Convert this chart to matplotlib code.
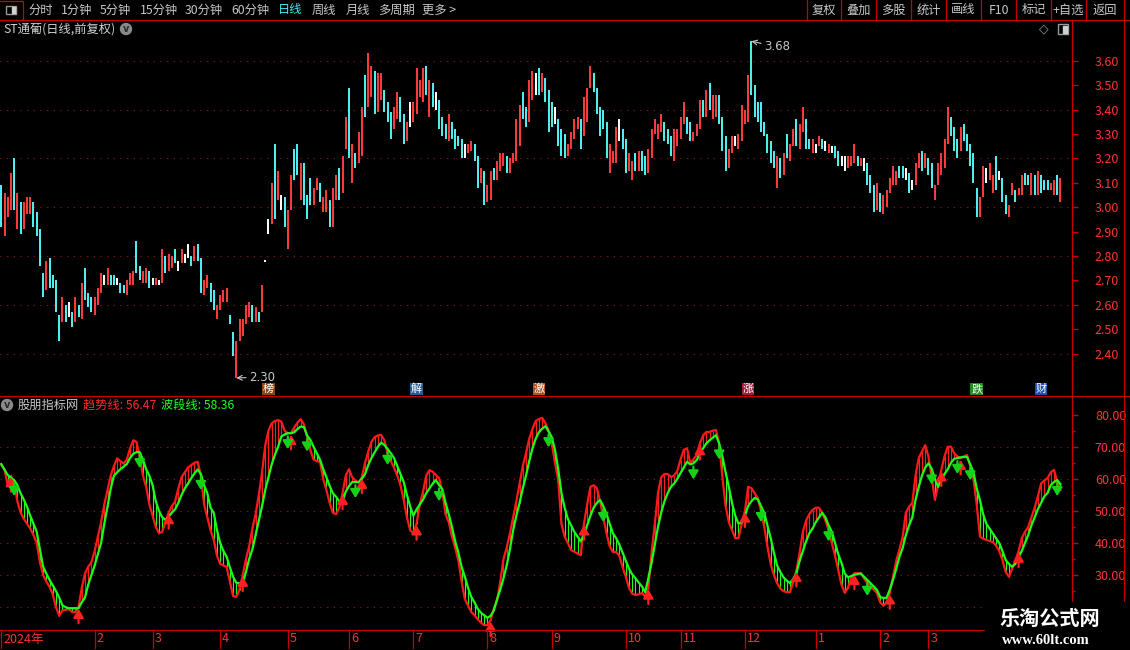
import numpy as np
import matplotlib
matplotlib.use("Agg")
import matplotlib.pyplot as plt
from matplotlib.patches import Rectangle, Circle
from matplotlib.transforms import blended_transform_factory

plt.rcParams["font.family"] = ["Noto Sans CJK SC", "DejaVu Sans"]

# daily bars: high / low / colour (r = up, c = down, w = flat)
highs = [
    3.09, 3.06, 3.04, 3.14, 3.20, 3.06, 3.02, 3.02, 3.04, 3.04,
    3.02, 2.98, 2.91, 2.73, 2.78, 2.79, 2.72, 2.70, 2.56, 2.63,
    2.60, 2.61, 2.57, 2.63, 2.60, 2.69, 2.75, 2.65, 2.63, 2.63,
    2.67, 2.73, 2.72, 2.75, 2.72, 2.72, 2.71, 2.69, 2.68, 2.70,
    2.73, 2.74, 2.86, 2.76, 2.74, 2.75, 2.74, 2.71, 2.71, 2.70,
    2.83, 2.80, 2.81, 2.80, 2.83, 2.78, 2.83, 2.81, 2.85, 2.80,
    2.84, 2.85, 2.79, 2.70, 2.72, 2.69, 2.66, 2.60, 2.64, 2.66,
    2.67, 2.56, 2.49, 2.45, 2.54, 2.54, 2.60, 2.61, 2.60, 2.59,
    2.57, 2.68, 2.785, 2.95, 3.10, 3.26, 3.15, 3.05, 3.04, 2.99,
    3.13, 3.24, 3.26, 3.18, 3.18, 3.05, 3.12, 3.08, 3.12, 3.10,
    3.04, 3.07, 3.03, 3.08, 3.13, 3.16, 3.21, 3.37, 3.49, 3.26,
    3.22, 3.31, 3.41, 3.54, 3.63, 3.58, 3.56, 3.55, 3.55, 3.48,
    3.43, 3.39, 3.41, 3.47, 3.45, 3.38, 3.35, 3.43, 3.43, 3.57,
    3.52, 3.57, 3.58, 3.52, 3.51, 3.47, 3.44, 3.37, 3.34, 3.38,
    3.35, 3.32, 3.29, 3.28, 3.26, 3.26, 3.27, 3.26, 3.21, 3.16,
    3.15, 3.09, 3.15, 3.16, 3.19, 3.22, 3.22, 3.21, 3.20, 3.22,
    3.36, 3.42, 3.47, 3.41, 3.52, 3.56, 3.55, 3.57, 3.55, 3.53,
    3.48, 3.43, 3.41, 3.36, 3.32, 3.30, 3.26, 3.31, 3.36, 3.37,
    3.36, 3.45, 3.49, 3.58, 3.55, 3.49, 3.41, 3.40, 3.35, 3.26,
    3.23, 3.33, 3.36, 3.32, 3.28, 3.22, 3.19, 3.22, 3.23, 3.23,
    3.21, 3.24, 3.32, 3.36, 3.34, 3.38, 3.35, 3.32, 3.29, 3.32,
    3.32, 3.37, 3.43, 3.37, 3.35, 3.31, 3.34, 3.44, 3.44, 3.48,
    3.51, 3.46, 3.46, 3.46, 3.37, 3.29, 3.24, 3.29, 3.29, 3.30,
    3.42, 3.40, 3.54, 3.68, 3.50, 3.43, 3.43, 3.35, 3.30, 3.27,
    3.23, 3.21, 3.20, 3.22, 3.30, 3.26, 3.32, 3.36, 3.34, 3.41,
    3.36, 3.28, 3.28, 3.26, 3.29, 3.28, 3.27, 3.26, 3.25, 3.25,
    3.23, 3.21, 3.21, 3.21, 3.21, 3.26, 3.21, 3.20, 3.20, 3.18,
    3.13, 3.09, 3.10, 3.06, 3.05, 3.07, 3.12, 3.17, 3.15, 3.17,
    3.17, 3.16, 3.14, 3.11, 3.18, 3.22, 3.23, 3.22, 3.20, 3.18,
    3.09, 3.18, 3.22, 3.28, 3.41, 3.37, 3.33, 3.28, 3.33, 3.34,
    3.30, 3.26, 3.22, 3.08, 3.04, 3.17, 3.16, 3.18, 3.13, 3.21,
    3.15, 3.12, 3.05, 3.01, 3.10, 3.07, 3.08, 3.13, 3.14, 3.13,
    3.14, 3.13, 3.15, 3.13, 3.11, 3.11, 3.10, 3.11, 3.13, 3.12,
]
lows = [
    2.92, 2.88, 2.96, 2.99, 2.99, 2.91, 2.89, 2.91, 2.97, 2.97,
    2.92, 2.88, 2.76, 2.63, 2.66, 2.67, 2.67, 2.57, 2.45, 2.53,
    2.53, 2.55, 2.51, 2.53, 2.55, 2.54, 2.62, 2.59, 2.57, 2.56,
    2.60, 2.65, 2.68, 2.68, 2.68, 2.68, 2.68, 2.65, 2.65, 2.64,
    2.68, 2.68, 2.73, 2.70, 2.69, 2.69, 2.67, 2.68, 2.68, 2.68,
    2.69, 2.73, 2.74, 2.75, 2.77, 2.74, 2.77, 2.77, 2.79, 2.76,
    2.78, 2.78, 2.65, 2.64, 2.67, 2.61, 2.58, 2.54, 2.58, 2.61,
    2.61, 2.52, 2.39, 2.30, 2.45, 2.47, 2.52, 2.55, 2.53, 2.53,
    2.53, 2.57, 2.775, 2.89, 2.93, 2.95, 3.03, 2.99, 2.92, 2.83,
    2.99, 3.11, 3.13, 3.03, 3.01, 2.95, 3.01, 3.01, 3.07, 3.02,
    2.98, 2.98, 2.92, 2.92, 3.03, 3.03, 3.06, 3.24, 3.20, 3.10,
    3.16, 3.18, 3.21, 3.37, 3.41, 3.45, 3.38, 3.39, 3.44, 3.39,
    3.35, 3.28, 3.32, 3.36, 3.35, 3.26, 3.27, 3.33, 3.35, 3.38,
    3.45, 3.43, 3.46, 3.37, 3.41, 3.40, 3.32, 3.29, 3.28, 3.27,
    3.28, 3.24, 3.25, 3.20, 3.20, 3.22, 3.23, 3.19, 3.08, 3.10,
    3.01, 3.02, 3.03, 3.11, 3.11, 3.15, 3.17, 3.14, 3.14, 3.18,
    3.19, 3.25, 3.36, 3.33, 3.35, 3.44, 3.46, 3.46, 3.47, 3.43,
    3.31, 3.33, 3.34, 3.25, 3.21, 3.20, 3.21, 3.24, 3.28, 3.32,
    3.24, 3.29, 3.35, 3.49, 3.47, 3.38, 3.29, 3.32, 3.20, 3.14,
    3.18, 3.18, 3.27, 3.24, 3.14, 3.15, 3.11, 3.15, 3.15, 3.15,
    3.13, 3.14, 3.20, 3.30, 3.28, 3.31, 3.27, 3.26, 3.21, 3.19,
    3.25, 3.28, 3.34, 3.30, 3.27, 3.27, 3.29, 3.32, 3.37, 3.37,
    3.40, 3.36, 3.37, 3.34, 3.23, 3.15, 3.16, 3.22, 3.25, 3.24,
    3.27, 3.34, 3.35, 3.46, 3.37, 3.35, 3.31, 3.29, 3.22, 3.18,
    3.16, 3.08, 3.12, 3.13, 3.20, 3.19, 3.25, 3.25, 3.24, 3.31,
    3.24, 3.24, 3.22, 3.22, 3.25, 3.24, 3.23, 3.22, 3.22, 3.20,
    3.17, 3.17, 3.15, 3.16, 3.17, 3.18, 3.17, 3.17, 3.15, 3.09,
    3.06, 2.98, 2.99, 2.98, 2.97, 3.00, 3.06, 3.09, 3.09, 3.12,
    3.12, 3.11, 3.06, 3.07, 3.09, 3.16, 3.15, 3.16, 3.13, 3.08,
    3.03, 3.09, 3.13, 3.16, 3.26, 3.29, 3.23, 3.20, 3.23, 3.27,
    3.23, 3.17, 3.10, 2.96, 2.96, 3.04, 3.10, 3.11, 3.06, 3.07,
    3.11, 3.02, 2.97, 2.96, 3.05, 3.02, 3.05, 3.05, 3.09, 3.09,
    3.05, 3.05, 3.05, 3.06, 3.07, 3.07, 3.07, 3.05, 3.05, 3.02,
]
bar_kind = (
    "crrrcrcrrr" "ccccrccccr" "cwcrcrcccr" "rrwrccwccr" "rrccrrcwrw"
    "rcrrcwrwwc" "rccrrccrrr" "rccrrrrrcr" "crwwrcrwcr" "rccrcccrrc"
    "rrcrrcrrcr" "crrcrrcrrc" "ccrrccrwrr" "rrcrcwcccr" "ccccwrrccr"
    "crrcrrrcrr" "rrccrrwcrc" "ccwcccrrrr" "crrrcccccr" "rrwccrrcrc"
    "crrrrrcccr" "rrrccrrrcr" "crrcccrrwr" "rrrccccccc" "crcrcrrcrr"
    "ccrwrcwrwc" "cwwrrrcrwc" "ccrcrrrrrc" "cwcwrrcrcc" "rrrrrcccrc"
    "ccccrrwrrc" "wccrrcrrcc" "rcrcccrrcr"
)

# indicator: 趋势线 (red) and 波段线 (green)
trend = [
    64.3, 63, 58, 61, 58.5, 53, 49.5, 47.5, 46, 44.5,
    42.5, 40, 34, 30, 28, 26.3, 24, 20, 17.3, 19,
    19.2, 19.4, 18.5, 18.5, 20, 26, 30.5, 32.6, 34, 37.5,
    42, 46.5, 52, 56.5, 61, 64, 66.4, 65.5, 64.8, 66,
    69.5, 72, 71.5, 67, 61, 57.5, 52, 48.5, 45, 43,
    43.5, 46.5, 49.5, 51.5, 53, 57, 60.5, 62, 63.5, 64.3,
    65, 65.3, 61, 52, 48, 44, 41, 36, 33.5, 33,
    32.6, 28, 23.5, 23.2, 25.5, 30, 35, 39, 44.5, 49,
    55, 62, 70.5, 75, 77.3, 78, 78.3, 77.8, 75, 74.2,
    74.2, 76, 77.5, 78.6, 77, 73, 69, 66, 65.5, 65.3,
    60, 56.5, 52.5, 49.4, 49, 51, 55.5, 61, 63, 60.5,
    59.5, 58.7, 60.5, 65, 68.5, 71.5, 73, 73.5, 73.7, 72,
    68, 65.5, 63.5, 61, 58, 53.5, 48, 44, 43, 46,
    52, 56, 61, 62.7, 62.2, 61.2, 60.2, 56, 49, 46.5,
    42, 38.5, 34.5, 28, 22.5, 20.5, 18.5, 17.5, 16.2, 15.2,
    14.4, 14.4, 16, 19.5, 22, 28, 35, 38.5, 43, 48,
    53, 58.5, 64, 68, 72.5, 75.5, 78, 78.6, 79, 77.4,
    75, 71, 65, 59.6, 46, 42, 40, 37.8, 37.3, 36.7,
    36.2, 46, 52, 57.5, 58, 57.1, 53, 48, 43, 39,
    37.2, 37.2, 36, 32.5, 29.5, 26, 24.2, 23.8, 24, 24.4,
    23.4, 26, 37, 46, 55.5, 60.5, 61.5, 61.5, 60.6, 61,
    62.5, 66, 69, 69.5, 65, 66, 67.5, 71, 73.5, 74.6,
    74.6, 75, 75.2, 71, 60.6, 51.5, 46.5, 44, 41.5, 41.5,
    46, 50, 57.5, 57.1, 55.5, 54, 50, 45, 38.8, 33.5,
    30, 27.5, 25.8, 25, 24.7, 24.7, 28, 31.5, 37, 43.5,
    47, 49, 50.3, 51, 51, 49.5, 47, 44, 40, 36,
    31.5, 27, 24.5, 26, 29, 30.6, 30.6, 30.6, 29, 27.5,
    26.5, 25.5, 24.4, 21.5, 20.5, 21.5, 24.5, 29.5, 34.5, 38,
    42, 49.5, 51.3, 52.5, 61, 66.5, 68.5, 70.5, 67, 60.5,
    53.5, 58, 62.8, 67, 70, 70, 68, 67, 66.4, 67,
    67.4, 64, 60, 52, 42, 41.3, 41, 40.6, 40.3, 39.2,
    37.5, 34.7, 31, 29.5, 32, 34.5, 37.5, 41.5, 43.5, 45,
    48, 51, 54.5, 58.5, 59.5, 60.2, 62, 62.8, 59, 56.47,
]
wave = [
    64.6, 62.8, 61.2, 60.3, 59.6, 58, 55.5, 53.5, 51.3, 48.5,
    46, 43.5, 38, 32.6, 30.5, 28.5, 26.8, 25, 23, 20.6,
    20, 19.7, 19.7, 19.7, 19.7, 21.5, 23, 27, 30, 33,
    36.5, 40, 46, 51.3, 57, 61, 62, 63, 63.8, 64.6,
    66.5, 67.8, 68.3, 68.3, 66, 63, 61, 58, 53, 50,
    48, 47.2, 48.2, 49.5, 50.5, 52.5, 55, 57, 58.5, 60.2,
    61.7, 62.9, 61.5, 58, 55.5, 51, 49.4, 44, 40, 37.5,
    35.7, 32.5, 29.5, 27.6, 27.5, 27.5, 31, 35, 38, 42.5,
    47, 51.5, 56.5, 60.5, 64.5, 67.5, 70, 73.2, 73.8, 74.2,
    74.2, 74.5, 75.5, 76.3, 76.1, 73.5, 72.1, 70, 68, 66,
    63, 60.5, 57.8, 55.5, 54.4, 53, 53, 56, 57.7, 59,
    59, 59, 60, 61.5, 64.3, 66.5, 68.3, 70, 71.3, 70.5,
    69.3, 68, 66.5, 64, 61.5, 59, 55, 51.5, 48.5, 50.5,
    52, 53.5, 55.5, 57, 58.5, 59.6, 58, 56.8, 52.5, 49,
    45, 40.5, 37, 32.5, 29.5, 26, 23.2, 21.5, 19.5, 18.3,
    17.5, 16.7, 17.3, 19, 22.5, 25.5, 29, 33, 38, 44,
    48.5, 52.5, 57, 61, 65.5, 69.5, 72.5, 74.5, 75.6, 76.4,
    74.8, 73, 69, 63, 55.6, 51, 47.5, 45.5, 43.5, 42,
    40.5, 42.5, 45.5, 48.5, 51, 52.5, 53.4, 51.5, 49, 46,
    43, 41.5, 39.5, 37, 34.5, 32, 30.2, 29, 27.7, 26.5,
    24.7, 29, 33.8, 39.5, 45, 49.5, 53, 55.5, 57.5, 58.5,
    60, 61.8, 63.5, 65.3, 64.5, 64.8, 65.8, 67.8, 69.5, 71,
    72, 72.8, 73.6, 71, 67, 62, 57.5, 52.5, 48.5, 46,
    46.5, 48.5, 51.5, 53, 54, 53.6, 51.5, 49.4, 45.5, 41.5,
    37, 33, 31, 29.3, 28.3, 27.5, 28.8, 30.6, 34.5, 37.5,
    40.5, 43, 44.5, 46.5, 48, 49.4, 48, 45.5, 43.5, 40,
    36.5, 33.8, 30.5, 29.3, 29.7, 30.1, 30.3, 30.5, 29.5, 28.5,
    27.5, 26.5, 25.4, 23.2, 22.9, 22.9, 25.5, 28.5, 32, 35.7,
    38.5, 42.5, 45.5, 48, 53.5, 57.5, 61, 63.5, 64.8, 63.2,
    60, 57.5, 59.6, 61.5, 63, 65, 66.2, 66.5, 66.7, 66.8,
    66.8, 64.5, 62, 57, 53.4, 49, 46, 44.5, 43, 41.5,
    40, 37.5, 34.7, 33.5, 32.6, 33.5, 35.7, 37.5, 40, 42.5,
    45.5, 48, 50.5, 52.5, 54.5, 55.6, 58, 59, 59.6, 58.36,
]
cross_up = [3, 24, 52, 75, 90, 106, 112, 129, 152, 181, 201, 217, 231,
            247, 265, 276, 292, 298, 316]
cross_down = [4, 43, 62, 89, 95, 110, 120, 136, 170, 187, 215, 223, 236,
              257, 269, 289, 297, 301, 328]

month_pos = [0, 29, 47, 68, 89, 108, 128, 151, 171, 194, 211, 231, 253, 273, 288]
month_text = ["2024年", "2", "3", "4", "5", "6", "7", "8", "9", "10", "11",
              "12", "1", "2", "3"]

event_pos = [83, 129, 167, 232, 303, 323]
event_text = ["榜", "解", "激", "涨", "跌", "财"]

price_ticks = [2.4, 2.5, 2.6, 2.7, 2.8, 2.9, 3.0, 3.1, 3.2, 3.3, 3.4, 3.5, 3.6]
price_grid = [2.4, 2.6, 2.8, 3.0, 3.2, 3.4, 3.6]
ind_ticks = [30, 40, 50, 60, 70, 80]
ind_grid = [20, 30, 40, 50, 60, 70]

# ---- colours
BORDER = "#c80000"
GRID = "#a01414"
AXLBL = "#ff3434"
GREY = "#c8c8c8"
BAR_COL = {"r": "#ff3c3c", "c": "#50f5f5", "w": "#ffffff"}
EVT_BG = {"榜": "#8c4614", "解": "#1f5f96", "激": "#b0521c",
          "涨": "#9c1e3c", "跌": "#1e8c1e", "财": "#2050b0"}
UI_FS = 8.8

W, H = 1130, 650
fig = plt.figure(figsize=(W / 100, H / 100), dpi=100, facecolor="black")


def px_rect(x0, y0, x1, y1):
    return [x0 / W, 1 - y1 / H, (x1 - x0) / W, (y1 - y0) / H]


ax1 = fig.add_axes(px_rect(0, 20, 1072, 396))
ax2 = fig.add_axes(px_rect(0, 396, 1072, 630))
n = len(highs)
x = np.arange(n)
xlim = (-0.4, 332.6)

for ax in (ax1, ax2):
    ax.set_facecolor("black")
    for s in ax.spines.values():
        s.set_visible(False)
    ax.set_xlim(*xlim)
    ax.set_xticks([])
    ax.yaxis.tick_right()

# ---- price panel
ax1.set_ylim(2.226, 3.767)
for g in price_grid:
    ax1.axhline(g, color=GRID, lw=0.8, ls=(0, (1, 5)), zorder=0)
ax1.vlines(x, lows, highs, colors=[BAR_COL[k] for k in bar_kind], lw=1.4, zorder=2)
ax1.set_yticks(price_ticks)
ax1.set_yticklabels([f"{v:.2f}" for v in price_ticks])
ax1.tick_params(axis="y", length=4, width=1, color=BORDER, labelcolor=AXLBL,
                labelsize=9, pad=12.5)

lo_arr, hi_arr = np.array(lows), np.array(highs)
imin, imax = int(lo_arr.argmin()), int(hi_arr.argmax())
ax1.annotate(f"{lo_arr[imin]:.2f}", xy=(imin, lo_arr[imin]), xytext=(9, 0.5),
             textcoords="offset points", color=GREY, fontsize=8.5,
             family="DejaVu Sans", va="center",
             arrowprops=dict(arrowstyle="->", color=GREY, lw=0.8,
                             shrinkA=0, shrinkB=0))
ax1.annotate(f"{hi_arr[imax]:.2f}", xy=(imax, hi_arr[imax]), xytext=(9, -4),
             textcoords="offset points", color=GREY, fontsize=8.5,
             family="DejaVu Sans", va="center",
             arrowprops=dict(arrowstyle="->", color=GREY, lw=0.8,
                             shrinkA=0, shrinkB=0))

# ---- indicator panel
t_arr, w_arr = np.array(trend), np.array(wave)
ax2.set_ylim(12.9, 85.8)
for g in ind_grid:
    ax2.axhline(g, color=GRID, lw=0.8, ls=(0, (1, 5)), zorder=0)
hatch_col = np.where(t_arr >= w_arr, "#ff1e1e", "#1eff1e")
ax2.vlines(x, np.minimum(t_arr, w_arr), np.maximum(t_arr, w_arr),
           colors=hatch_col, lw=0.8, zorder=1)
ax2.plot(x, t_arr, color="#ff1a1a", lw=1.6, zorder=2)
ax2.plot(x, w_arr, color="#1aff1a", lw=1.6, zorder=3)
for i in cross_up:
    ax2.annotate("", xy=(i, t_arr[i] - 0.5), xytext=(i, t_arr[i] - 5),
                 arrowprops=dict(arrowstyle="-|>,head_width=0.3,head_length=0.5",
                                 color="#ff2020", lw=1.6, shrinkA=0, shrinkB=0),
                 zorder=4)
for i in cross_down:
    ax2.annotate("", xy=(i, w_arr[i] - 5), xytext=(i, w_arr[i] - 1),
                 arrowprops=dict(arrowstyle="-|>,head_width=0.3,head_length=0.5",
                                 color="#14d214", lw=1.6, shrinkA=0, shrinkB=0),
                 zorder=4)
ax2.set_yticks(ind_ticks)
ax2.set_yticklabels([f"{v:.2f}" for v in ind_ticks])
ax2.set_yticks([25, 35, 45, 55, 65, 75], minor=True)
ax2.tick_params(axis="y", which="major", length=4, width=1, color=BORDER,
                labelcolor=AXLBL, labelsize=9, pad=12.5)
ax2.tick_params(axis="y", which="minor", length=2.5, width=1, color=BORDER)

# ---- overlay in pixel coordinates for the terminal chrome
ov = fig.add_axes([0, 0, 1, 1])
ov.set_xlim(0, W)
ov.set_ylim(H, 0)
ov.axis("off")
ov.patch.set_visible(False)
ov.set_zorder(5)


def line(xs, ys, **kw):
    ov.plot(xs, ys, color=kw.pop("color", BORDER), lw=kw.pop("lw", 0.9), **kw)


# toolbar
line([0, W], [20, 20])
line([0, 23, 23, 0], [0.5, 0.5, 20, 20])
ov.add_patch(Rectangle((6, 6), 10, 8, fill=False, ec="#9a9a9a", lw=1))
ov.add_patch(Rectangle((12, 7), 3, 6, color="#d0d0d0"))
tabs = [("分时", 28), ("1分钟", 61), ("5分钟", 100), ("15分钟", 140),
        ("30分钟", 185), ("60分钟", 231), ("日线", 278), ("周线", 312),
        ("月线", 346), ("多周期", 378), ("更多 >", 422)]
for lbl, tx in tabs:
    ov.text(tx, 10, lbl, color="#3ff0f0" if lbl == "日线" else GREY,
            fontsize=UI_FS, va="center", ha="left")
seps = [807, 841, 876, 911, 946, 981, 1016, 1051, 1086, 1124]
buttons = ["复权", "叠加", "多股", "统计", "画线", "F10", "标记", "+自选", "返回"]
for s in seps:
    line([s, s], [0, 20])
for b, s0, s1 in zip(buttons, seps[:-1], seps[1:]):
    ov.text((s0 + s1) / 2, 10, b, color=GREY, fontsize=UI_FS, ha="center",
            va="center")

# frame lines
line([1072, 1072], [20, H])
line([1124, 1124], [20, H])
line([0, W], [396, 396])
line([0, 1072], [630, 630])

# main header
ov.text(3, 29, "ST通葡(日线,前复权)", color="#d2d2d2", fontsize=UI_FS, va="center")
ov.add_patch(Circle((126, 29), 5.5, color="#8a8a8a"))
ov.text(126, 29.5, "v", color="#2a2a2a", fontsize=7, ha="center", va="center",
        family="DejaVu Sans", fontweight="bold")
ov.text(1044, 29, "◇", color="#9a9a9a", fontsize=9, ha="center", va="center",
        family="DejaVu Sans")
ov.add_patch(Rectangle((1058, 24), 10, 10, fill=False, ec="#9a9a9a", lw=1))
ov.add_patch(Rectangle((1063, 25.5), 3.5, 7, color="#d0d0d0"))

# indicator header
ov.add_patch(Circle((7, 405), 5.5, color="#8a8a8a"))
ov.text(7, 405.5, "v", color="#2a2a2a", fontsize=7, ha="center", va="center",
        family="DejaVu Sans", fontweight="bold")
ov.text(18, 405, "股朋指标网", color="#c8c8c8", fontsize=UI_FS, va="center")
ov.text(83, 405, f"趋势线: {trend[-1]:.2f}", color="#ff2a2a", fontsize=UI_FS,
        va="center")
ov.text(161, 405, f"波段线: {wave[-1]:.2f}", color="#22ff22", fontsize=UI_FS,
        va="center")

# event markers under the price bars
evt_tr = blended_transform_factory(ax1.transData, ov.transData)
for i, ch in zip(event_pos, event_text):
    ov.text(i, 389, ch, transform=evt_tr, color="white", fontsize=8,
            ha="center", va="center",
            bbox=dict(boxstyle="square,pad=0.06", fc=EVT_BG[ch], ec="none"))

# date axis
date_tr = blended_transform_factory(ax2.transData, ov.transData)
for i, lbl in zip(month_pos, month_text):
    ov.plot([i, i], [630, 648], transform=date_tr, color=BORDER, lw=0.9,
            clip_on=False)
    ov.text(i + 0.6, 639, lbl, transform=date_tr, color="#ff3030", fontsize=9,
            va="center", ha="left")

# watermark
ov.add_patch(Rectangle((985, 602), 145, 48, color="black", zorder=10))
ov.text(1050, 618, "乐淘公式网", color="white", fontsize=14.5, fontweight="bold",
        ha="center", va="center", zorder=11)
ov.text(1046, 640, "www.60lt.com", color="white", fontsize=10.5,
        family="Liberation Serif", fontweight="bold", ha="center", va="center",
        zorder=11)

fig.savefig("out.png", dpi=100, facecolor="black")
